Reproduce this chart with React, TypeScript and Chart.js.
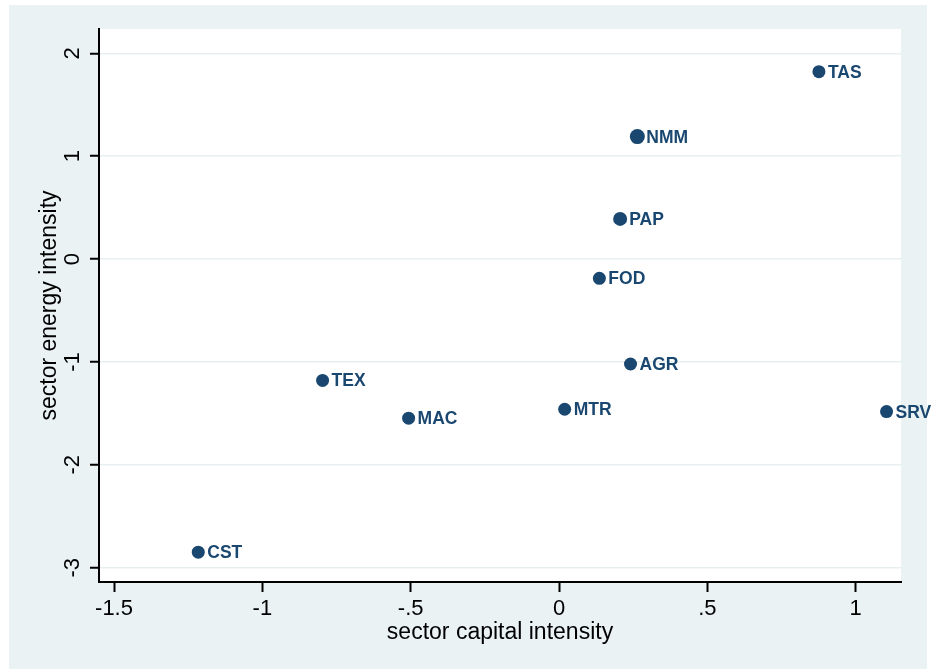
import React, { useEffect, useRef } from "react";
import { Chart, registerables } from "chart.js";

Chart.register(...registerables);

// Data
const sectors = ["TAS", "NMM", "PAP", "FOD", "AGR", "MTR", "SRV", "TEX", "MAC", "CST"];
const capitalIntensity = [0.876, 0.264, 0.206, 0.136, 0.241, 0.019, 1.104, -0.797, -0.507, -1.216];
const energyIntensity = [1.821, 1.19, 0.39, -0.187, -1.02, -1.46, -1.483, -1.18, -1.547, -2.849];
const markerSizes = [6.5, 7.5, 7, 6.5, 6.5, 6.5, 6.5, 6.5, 6.5, 6.5];

const xTickValues = [-1.5, -1, -0.5, 0, 0.5, 1];
const xTickLabels = ["-1.5", "-1", "-.5", "0", ".5", "1"];
const yTickValues = [-3, -2, -1, 0, 1, 2];
const yTickLabels = ["-3", "-2", "-1", "0", "1", "2"];

const xTitle = "sector capital intensity";
const yTitle = "sector energy intensity";

const FONT = "'Liberation Sans', Arial, Helvetica, sans-serif";
const NAVY = "#1a476f";
const BG = "#eaf2f3";
const GRID = "#e8eff1";

const backgroundPlugin = {
  id: "stataBackground",
  beforeDraw(chart: any) {
    const { ctx, chartArea } = chart;
    ctx.save();
    ctx.fillStyle = "#ffffff";
    ctx.fillRect(0, 0, chart.width, chart.height);
    ctx.fillStyle = BG;
    ctx.fillRect(9, 5, chart.width - 13, chart.height - 5);
    ctx.fillStyle = "#ffffff";
    ctx.fillRect(chartArea.left, chartArea.top, chartArea.right - chartArea.left, chartArea.bottom - chartArea.top);
    ctx.restore();
  },
};

const pointLabelPlugin = {
  id: "pointLabels",
  afterDatasetsDraw(chart: any) {
    const { ctx } = chart;
    const meta = chart.getDatasetMeta(0);
    ctx.save();
    ctx.fillStyle = NAVY;
    ctx.font = `bold 17.5px ${FONT}`;
    ctx.textAlign = "left";
    ctx.textBaseline = "alphabetic";
    meta.data.forEach((pt: any, i: number) => {
      ctx.fillText(sectors[i], pt.x + 9, pt.y + 6);
    });
    ctx.restore();
  },
};

export default function App() {
  const canvasRef = useRef<HTMLCanvasElement | null>(null);

  useEffect(() => {
    if (!canvasRef.current) return;
    const chart = new Chart(canvasRef.current, {
      type: "scatter",
      data: {
        datasets: [
          {
            label: "sectors",
            data: capitalIntensity.map((x, i) => ({ x, y: energyIntensity[i] })),
            backgroundColor: NAVY,
            borderColor: NAVY,
            borderWidth: 0,
            pointRadius: markerSizes,
            pointHoverRadius: markerSizes,
          },
        ],
      },
      options: {
        responsive: false,
        animation: false,
        layout: { padding: { left: 0, right: 30, top: 29, bottom: 0 } },
        plugins: {
          legend: { display: false },
          tooltip: { enabled: false },
        },
        scales: {
          x: {
            type: "linear",
            min: -1.5506,
            max: 1.1527,
            afterBuildTicks: (scale: any) => {
              scale.ticks = xTickValues.map((v) => ({ value: v }));
            },
            afterFit: (scale: any) => {
              scale.height = 87;
            },
            grid: {
              drawOnChartArea: false,
              drawTicks: true,
              tickLength: 10,
              tickColor: "#000",
              tickWidth: 2,
            },
            border: { display: true, color: "#000", width: 2 },
            ticks: {
              color: "#000",
              font: { family: FONT, size: 22 },
              padding: 4,
              maxRotation: 0,
              autoSkip: false,
              callback: (_v: any, i: number) => xTickLabels[i],
            },
            title: {
              display: true,
              text: xTitle,
              color: "#000",
              font: { family: FONT, size: 23 },
              padding: { top: 0, bottom: 23 },
            },
          },
          y: {
            type: "linear",
            min: -3.139,
            max: 2.236,
            afterBuildTicks: (scale: any) => {
              scale.ticks = yTickValues.map((v) => ({ value: v }));
            },
            afterFit: (scale: any) => {
              scale.width = 99;
            },
            grid: {
              drawOnChartArea: true,
              color: GRID,
              lineWidth: 1.5,
              drawTicks: true,
              tickLength: 9,
              tickColor: "#000",
              tickWidth: 2,
            },
            border: { display: true, color: "#000", width: 2 },
            ticks: {
              color: "#000",
              font: { family: FONT, size: 22 },
              padding: 7.5,
              minRotation: 90,
              maxRotation: 90,
              crossAlign: "center",
              autoSkip: false,
              callback: (_v: any, i: number) => yTickLabels[i],
            },
            title: {
              display: true,
              text: yTitle,
              color: "#000",
              font: { family: FONT, size: 23 },
              padding: { top: 36, bottom: 0 },
            },
          },
        },
      },
      plugins: [backgroundPlugin, pointLabelPlugin],
    } as any);
    return () => chart.destroy();
  }, []);

  return (
    <div style={{ position: "absolute", left: 0, top: 0, width: 931, height: 669 }}>
      <canvas ref={canvasRef} width={931} height={669} style={{ display: "block", width: 931, height: 669 }} />
    </div>
  );
}
